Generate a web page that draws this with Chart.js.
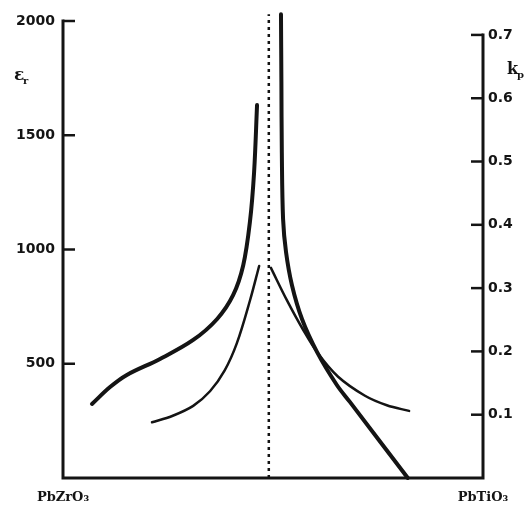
<!DOCTYPE html>
<html>
<head>
<meta charset="utf-8">
<script src="https://cdn.jsdelivr.net/npm/chart.js@4"></script>
<style>
  html, body { margin: 0; padding: 0; background: #fff; }
  #wrap { width: 525px; height: 512px; }
</style>
</head>
<body>
<div id="wrap"><canvas id="grafico"></canvas></div>
<script>
// composition axis: 0 = PbZrO3, 1 = PbTiO3
const endLabels = ['PbZrO\u2083', 'PbTiO\u2083'];
const mpbX = 0.49;

// permittivity (left axis)
const epsLeftX = [0.069, 0.112, 0.152, 0.231, 0.31, 0.367, 0.405, 0.429, 0.445, 0.455, 0.462];
const epsLeftY = [324, 398, 451, 521, 604, 696, 800, 930, 1120, 1339, 1632];
const epsRightX = [0.519, 0.520, 0.521, 0.524, 0.531, 0.545, 0.569, 0.605, 0.652, 0.683, 0.821];
const epsRightY = [2030, 1733, 1427, 1133, 989, 845, 696, 551, 407, 333, 0];

// coupling factor kp (right axis)
const kpLeftX = [0.212, 0.26, 0.31, 0.35, 0.385, 0.414, 0.445, 0.467];
const kpLeftY = [0.088, 0.098, 0.114, 0.137, 0.17, 0.213, 0.28, 0.335];
const kpRightX = [0.495, 0.533, 0.571, 0.607, 0.655, 0.719, 0.771, 0.824];
const kpRightY = [0.332, 0.281, 0.235, 0.197, 0.16, 0.13, 0.115, 0.106];

const epsTicks = [500, 1000, 1500, 2000];
const kpTicks = [0.1, 0.2, 0.3, 0.4, 0.5, 0.6, 0.7];

const ink = '#141414';
const zip = (xs, ys) => xs.map((x, i) => ({ x: x, y: ys[i] }));

const curva = (xs, ys, eje, grosor) => ({
  data: zip(xs, ys),
  yAxisID: eje,
  borderColor: ink,
  borderWidth: grosor,
  pointRadius: 0,
  tension: 0.35,
  borderCapStyle: 'round',
  clip: false,
  fill: false
});

// axis lines and inward tick marks
const ejesPlugin = {
  id: 'ejes',
  afterDraw(chart) {
    const { ctx, chartArea, scales } = chart;
    const yl = scales.y, yr = scales.y2;
    const L = chartArea.left, R = chartArea.right, B = chartArea.bottom;
    ctx.save();
    ctx.strokeStyle = ink;
    ctx.lineWidth = 3;
    ctx.lineCap = 'square';
    ctx.beginPath();
    ctx.moveTo(L, yl.getPixelForValue(2000));
    ctx.lineTo(L, B);
    ctx.lineTo(R, B);
    ctx.lineTo(R, yr.getPixelForValue(0.7));
    ctx.stroke();
    ctx.lineWidth = 2.5;
    ctx.lineCap = 'butt';
    epsTicks.forEach(v => {
      const y = yl.getPixelForValue(v);
      ctx.beginPath(); ctx.moveTo(L, y); ctx.lineTo(L + 12, y); ctx.stroke();
    });
    kpTicks.forEach(v => {
      const y = yr.getPixelForValue(v);
      ctx.beginPath(); ctx.moveTo(R, y); ctx.lineTo(R - 12, y); ctx.stroke();
    });
    // axis symbols
    ctx.fillStyle = ink;
    ctx.textBaseline = 'alphabetic';
    ctx.font = 'bold 17px "DejaVu Serif"';
    ctx.fillText('\u03b5', 14, 80);
    ctx.font = 'bold 10px "DejaVu Serif"';
    ctx.fillText('r', 23, 84);
    ctx.font = 'bold 16px "DejaVu Serif"';
    ctx.fillText('k', 507, 74);
    ctx.font = 'bold 10px "DejaVu Serif"';
    ctx.fillText('p', 517, 78);
    ctx.restore();
  }
};

new Chart(document.getElementById('grafico'), {
  type: 'line',
  data: {
    datasets: [
      curva(epsLeftX, epsLeftY, 'y', 4),
      curva(epsRightX, epsRightY, 'y', 4),
      curva(kpLeftX, kpLeftY, 'y2', 2.5),
      curva(kpRightX, kpRightY, 'y2', 2.5),
      {
        data: [{ x: mpbX, y: 0 }, { x: mpbX, y: 2030 }],
        yAxisID: 'y',
        borderColor: ink,
        borderWidth: 2.5,
        borderDash: [3, 4],
        pointRadius: 0,
        clip: false
      }
    ]
  },
  plugins: [ejesPlugin],
  options: {
    responsive: true,
    maintainAspectRatio: false,
    animation: false,
    layout: { padding: { top: 21, left: 0, right: 0, bottom: 0 } },
    plugins: { legend: { display: false }, tooltip: { enabled: false } },
    scales: {
      x: {
        type: 'linear',
        min: 0,
        max: 1,
        grid: { display: false, drawTicks: false },
        border: { display: false },
        afterBuildTicks: s => { s.ticks = [{ value: 0 }, { value: 1 }]; },
        afterFit: s => { s.height = 34; },
        ticks: {
          padding: 12,
          maxRotation: 0,
          autoSkip: false,
          color: ink,
          font: { family: 'DejaVu Serif', weight: 'bold', size: 13 },
          callback: v => (v === 0 ? endLabels[0] : endLabels[1])
        }
      },
      y: {
        position: 'left',
        min: 0,
        max: 2000,
        grid: { display: false, drawTicks: false },
        border: { display: false },
        afterBuildTicks: s => { s.ticks = epsTicks.map(v => ({ value: v })); },
        afterFit: s => { s.width = 63; },
        ticks: {
          padding: 8,
          color: ink,
          font: { family: 'DejaVu Sans', weight: 'bold', size: 14 },
          callback: v => String(v)
        }
      },
      y2: {
        position: 'right',
        min: 0,
        max: 0.722,
        grid: { display: false, drawTicks: false },
        border: { display: false },
        afterBuildTicks: s => { s.ticks = kpTicks.map(v => ({ value: v })); },
        afterFit: s => { s.width = 42; },
        ticks: {
          padding: 5,
          color: ink,
          font: { family: 'DejaVu Sans', weight: 'bold', size: 14 },
          callback: v => v.toFixed(1)
        }
      }
    }
  }
});
</script>
</body>
</html>
